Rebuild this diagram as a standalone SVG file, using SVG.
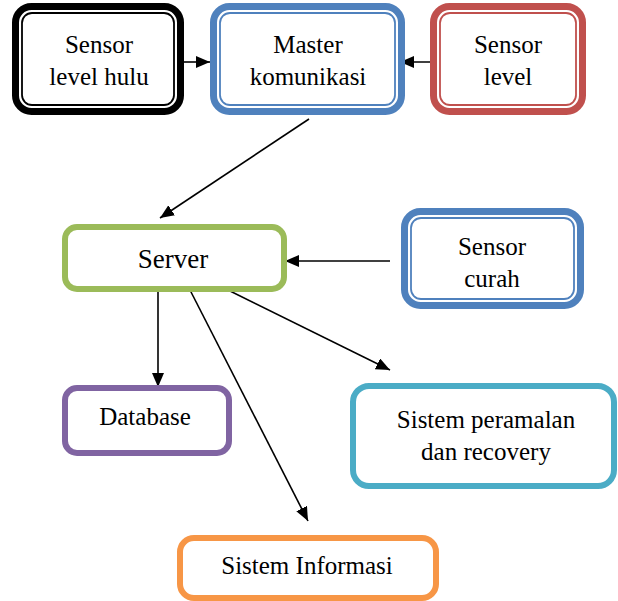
<svg xmlns="http://www.w3.org/2000/svg" width="618" height="601" viewBox="0 0 618 601">
<defs>
<marker id="ah" markerUnits="userSpaceOnUse" markerWidth="16" markerHeight="14" refX="14" refY="6" orient="auto">
<path d="M0,0 L14,6 L0,12 z" fill="#000"/>
</marker>
<style>
.t{font-family:"Liberation Serif","Times New Roman",serif;font-size:25px;fill:#000;text-anchor:middle}
.o{fill:#fff;stroke-width:7}
.i{fill:none;stroke-width:1.8}
.s{fill:#fff;stroke-width:6}
.c{stroke:#000;stroke-width:1.6;fill:none;marker-end:url(#ah)}
</style>
</defs>
<rect width="618" height="601" fill="#fff"/>
<g id="connectors">
<line class="c" x1="184" y1="62" x2="210" y2="62"/>
<line class="c" x1="435" y1="62" x2="400" y2="62"/>
<line class="c" x1="309" y1="119" x2="160" y2="218"/>
<line class="c" x1="390" y1="261" x2="285" y2="261"/>
<line class="c" x1="158" y1="292" x2="158" y2="387"/>
<line class="c" x1="190" y1="290" x2="308" y2="521"/>
<line class="c" x1="228" y1="290" x2="390" y2="370"/>
</g>
<g id="sensor-level-hulu">
<rect class="o" x="15.5" y="6.5" width="165" height="105" rx="16" stroke="#000"/>
<rect class="i" x="22" y="13" width="152" height="92" rx="10" stroke="#000"/>
<text class="t" x="99" y="53">Sensor</text>
<text class="t" x="99" y="85">level hulu</text>
</g>
<g id="master-komunikasi">
<rect class="o" x="213.5" y="6.5" width="188" height="105" rx="16" stroke="#4F81BD"/>
<rect class="i" x="220" y="13" width="175" height="92" rx="10" stroke="#4F81BD"/>
<text class="t" x="308" y="53">Master</text>
<text class="t" x="308" y="85">komunikasi</text>
</g>
<g id="sensor-level">
<rect class="o" x="433.5" y="6.5" width="149" height="105" rx="16" stroke="#C0504D"/>
<rect class="i" x="440" y="13" width="136" height="92" rx="10" stroke="#C0504D"/>
<text class="t" x="508" y="53">Sensor</text>
<text class="t" x="508" y="85">level</text>
</g>
<g id="sensor-curah">
<rect class="o" x="404.5" y="211.5" width="176" height="94" rx="16" stroke="#4F81BD"/>
<rect class="i" x="411" y="218" width="163" height="81" rx="10" stroke="#4F81BD"/>
<text class="t" x="492" y="255">Sensor</text>
<text class="t" x="492" y="287">curah</text>
</g>
<g id="server">
<rect class="s" x="65" y="227" width="219" height="62" rx="12" stroke="#9BBB59"/>
<text class="t" x="173" y="268" style="font-size:27px">Server</text>
</g>
<g id="database">
<rect class="s" x="65" y="388" width="164" height="65" rx="12" stroke="#8064A2"/>
<text class="t" x="145" y="425">Database</text>
</g>
<g id="sistem-peramalan">
<rect class="s" x="353" y="386" width="261" height="100" rx="16" stroke="#4BACC6"/>
<text class="t" x="486" y="428">Sistem peramalan</text>
<text class="t" x="486" y="460">dan recovery</text>
</g>
<g id="sistem-informasi">
<rect class="s" x="180" y="538" width="256" height="60" rx="14" stroke="#F79646"/>
<text class="t" x="307" y="574">Sistem Informasi</text>
</g>
</svg>
